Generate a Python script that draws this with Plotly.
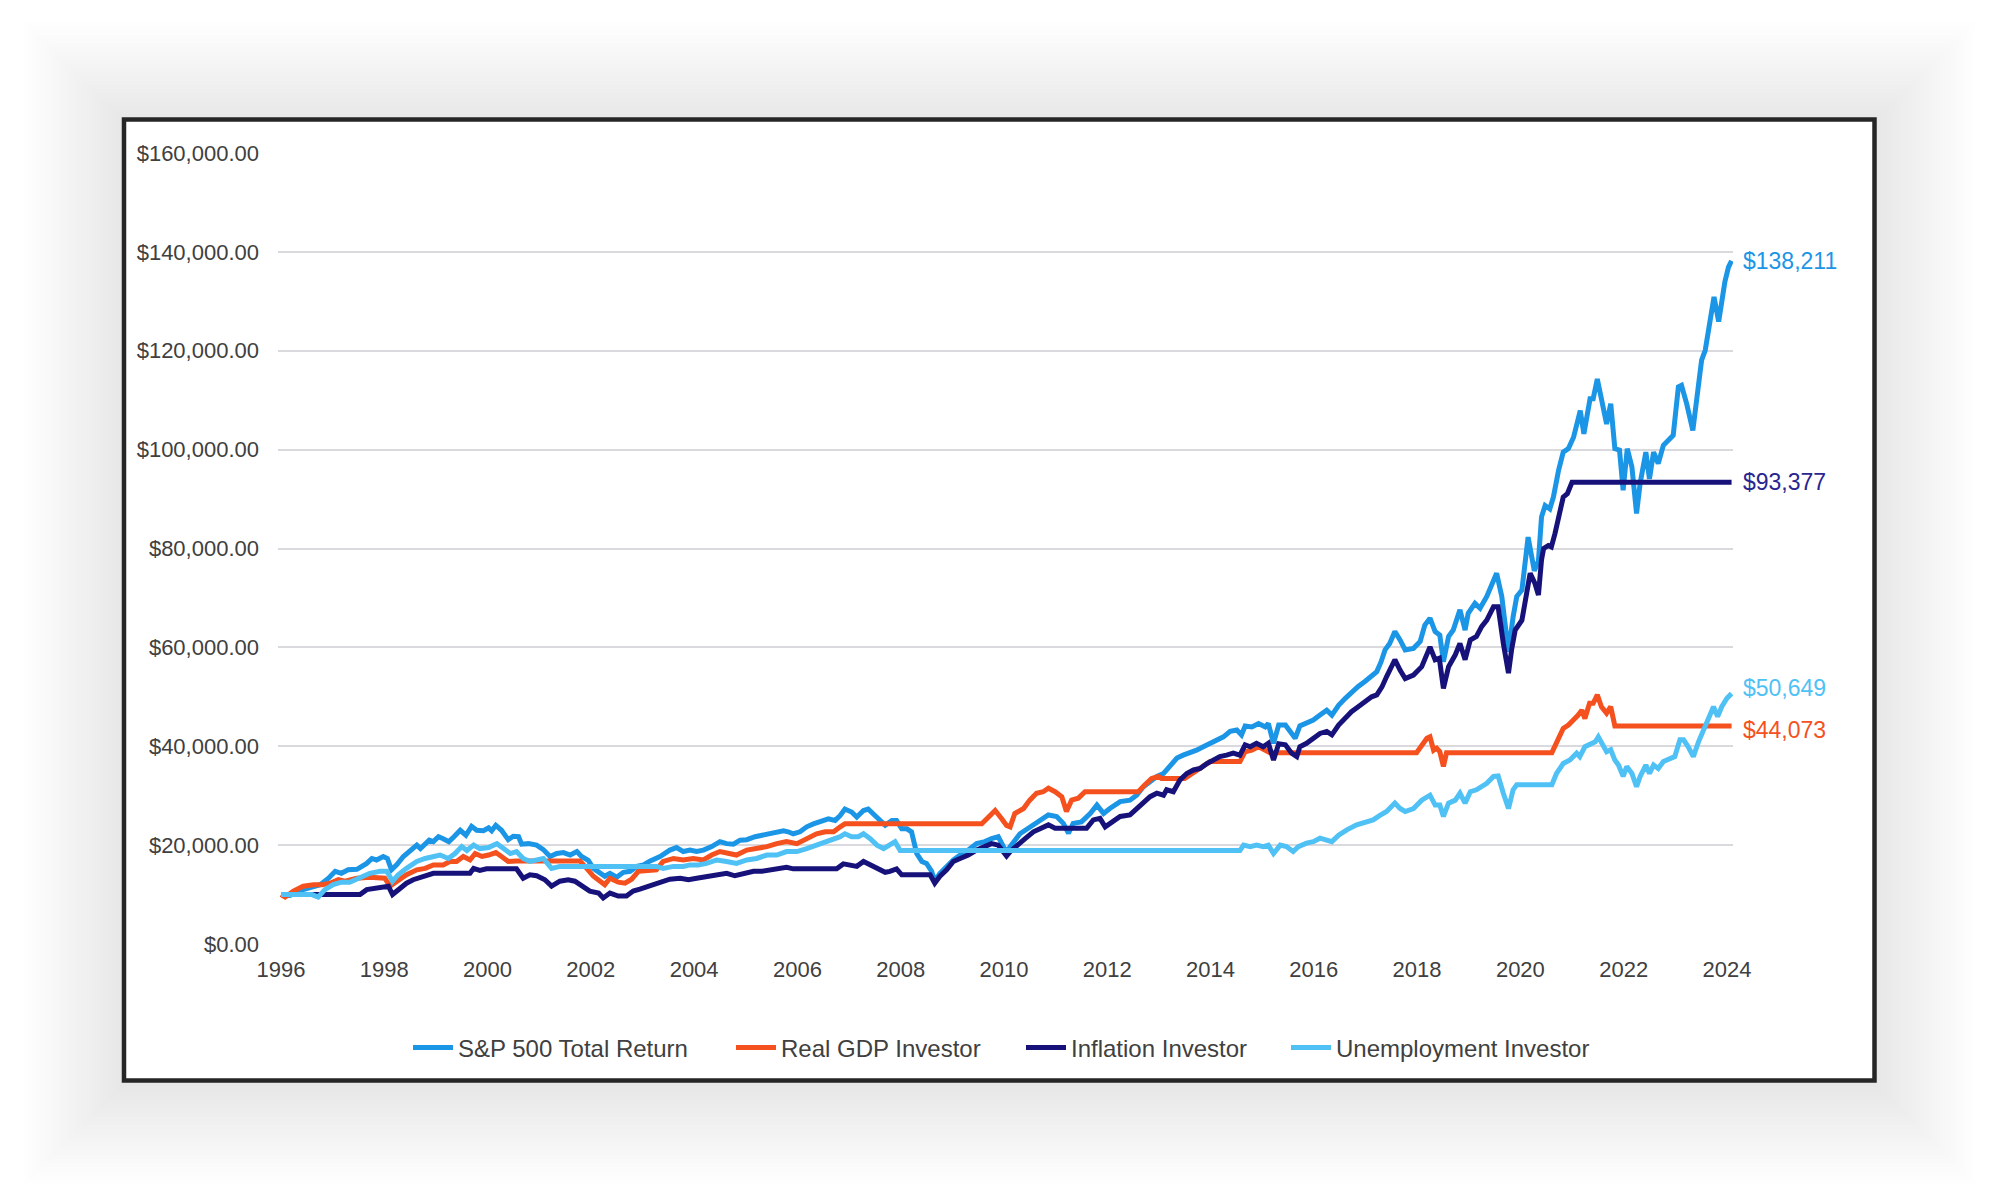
import plotly.graph_objects as go

# ---- data: (year, value in $ thousands) ----
sp500_k = [
    (1996.00,10.0),(1996.17,9.8),(1996.43,11.0),(1996.76,12.0),(1996.92,13.3),(1997.05,14.7),(1997.17,14.3),
    (1997.30,15.0),(1997.47,15.1),(1997.66,16.3),(1997.76,17.3),(1997.85,17.0),(1997.98,17.7),(1998.06,17.3),
    (1998.14,15.0),(1998.24,16.0),(1998.37,17.7),(1998.50,19.0),(1998.63,20.0),(1998.70,19.3),(1998.79,20.3),
    (1998.87,21.0),(1998.95,20.7),(1999.05,21.7),(1999.14,21.3),(1999.25,20.7),(1999.35,21.7),(1999.47,23.0),
    (1999.58,22.0),(1999.69,23.8),(1999.79,23.0),(1999.92,22.9),(2000.02,23.5),(2000.08,22.9),(2000.16,24.0),
    (2000.27,23.0),(2000.40,21.1),(2000.50,21.8),(2000.60,21.7),(2000.66,20.2),(2000.79,20.3),(2000.95,20.0),
    (2001.08,19.1),(2001.21,17.7),(2001.34,18.3),(2001.47,18.5),(2001.60,18.0),(2001.73,18.7),(2001.82,17.7),
    (2001.95,16.9),(2002.05,15.3),(2002.18,14.3),(2002.27,13.7),(2002.37,14.3),(2002.50,13.5),(2002.63,14.5),
    (2002.76,14.7),(2002.89,15.7),(2003.02,16.0),(2003.15,16.8),(2003.34,17.7),(2003.53,19.0),(2003.66,19.5),
    (2003.79,18.7),(2003.92,19.0),(2004.05,18.7),(2004.18,19.0),(2004.34,19.7),(2004.50,20.7),(2004.63,20.3),
    (2004.76,20.2),(2004.89,21.0),(2005.02,21.1),(2005.18,21.7),(2005.31,22.0),(2005.44,22.3),(2005.60,22.7),
    (2005.73,22.9),(2005.82,22.7),(2005.92,22.3),(2006.05,22.7),(2006.18,23.7),(2006.31,24.3),(2006.47,25.0),
    (2006.60,25.3),(2006.73,25.0),(2006.83,26.0),(2006.92,27.3),(2007.05,26.7),(2007.15,25.7),(2007.28,27.0),
    (2007.37,27.3),(2007.47,26.3),(2007.57,25.0),(2007.70,24.0),(2007.83,25.0),(2007.92,25.0),(2008.02,23.3),
    (2008.12,23.3),(2008.21,22.7),(2008.31,18.3),(2008.41,16.7),(2008.50,16.3),(2008.60,14.7),(2008.66,12.7),
    (2008.76,14.3),(2008.89,15.7),(2009.02,17.0),(2009.15,18.0),(2009.31,19.0),(2009.47,20.3),(2009.63,20.7),
    (2009.76,21.3),(2009.89,21.7),(2010.05,18.5),(2010.12,19.7),(2010.31,22.3),(2010.50,23.7),(2010.70,25.1),
    (2010.86,26.1),(2011.02,25.8),(2011.15,24.4),(2011.25,22.4),(2011.34,24.4),(2011.50,24.7),(2011.67,26.4),
    (2011.80,28.1),(2011.93,26.4),(2012.05,27.4),(2012.25,28.8),(2012.44,29.1),(2012.57,30.1),(2012.70,31.8),
    (2012.83,32.8),(2012.96,33.9),(2013.09,34.5),(2013.22,35.9),(2013.35,37.6),(2013.47,38.2),(2013.60,38.6),
    (2013.73,39.2),(2013.86,39.9),(2013.99,40.6),(2014.12,41.3),(2014.25,41.9),(2014.38,43.0),(2014.51,43.3),
    (2014.60,42.3),(2014.67,44.1),(2014.80,43.9),(2014.93,44.6),(2015.06,43.9),(2015.12,44.6),(2015.22,40.6),
    (2015.32,44.3),(2015.45,44.3),(2015.54,43.0),(2015.64,41.6),(2015.73,44.1),(2015.86,44.6),(2015.99,45.3),
    (2016.12,46.3),(2016.25,47.3),(2016.35,46.3),(2016.48,48.3),(2016.61,49.7),(2016.73,51.0),(2016.86,52.1),
    (2016.99,53.1),(2017.12,54.4),(2017.22,55.1),(2017.30,57.0),(2017.38,59.5),(2017.47,60.8),(2017.57,63.2),
    (2017.67,61.5),(2017.77,59.5),(2017.93,59.8),(2018.06,61.2),(2018.15,64.5),(2018.25,65.9),(2018.35,63.2),
    (2018.44,62.5),(2018.51,57.1),(2018.61,62.2),(2018.70,63.5),(2018.83,67.6),(2018.93,63.5),(2018.99,66.9),
    (2019.12,68.9),(2019.22,67.9),(2019.35,70.3),(2019.48,73.6),(2019.54,75.0),(2019.64,70.3),(2019.70,65.5),
    (2019.77,59.1),(2019.86,66.2),(2019.93,70.3),(2020.03,71.6),(2020.15,82.3),(2020.27,75.5),(2020.35,77.5),
    (2020.41,86.4),(2020.48,88.7),(2020.57,88.0),(2020.64,90.4),(2020.74,95.8),(2020.83,99.5),(2020.93,100.2),
    (2021.03,102.5),(2021.16,107.9),(2021.23,103.2),(2021.35,110.3),(2021.41,110.3),(2021.49,114.3),(2021.57,110.6),
    (2021.67,105.2),(2021.75,109.3),(2021.83,100.2),(2021.92,99.9),(2021.99,91.8),(2022.07,100.2),(2022.16,96.5),
    (2022.25,87.1),(2022.32,93.2),(2022.43,99.5),(2022.50,94.1),(2022.58,99.5),(2022.67,97.2),(2022.77,100.9),
    (2022.90,102.5),(2022.96,102.9),(2023.06,112.7),(2023.12,113.0),(2023.22,109.3),(2023.34,103.9),(2023.42,110.6),
    (2023.51,118.1),(2023.58,120.1),(2023.67,125.5),(2023.75,130.9),(2023.84,125.9),(2023.90,130.9),(2023.96,133.9),
    (2024.03,136.9),(2024.09,138.211),
]

gdp_k = [
    (1996.00,10.0),(1996.08,9.5),(1996.24,10.7),(1996.43,11.7),(1996.63,12.0),(1996.80,12.0),(1996.95,12.3),
    (1997.11,13.0),(1997.24,12.7),(1997.47,13.3),(1997.72,13.5),(1998.01,13.3),(1998.11,11.7),(1998.24,12.7),
    (1998.43,14.0),(1998.63,15.0),(1998.79,15.3),(1998.95,16.0),(1999.14,16.0),(1999.27,16.7),(1999.40,16.7),
    (1999.53,17.7),(1999.66,17.0),(1999.76,18.3),(1999.89,17.7),(2000.02,18.0),(2000.16,18.5),(2000.27,17.7),
    (2000.40,16.7),(2000.56,16.8),(2001.79,16.8),(2001.92,15.3),(2002.05,13.7),(2002.18,12.7),(2002.27,12.0),
    (2002.37,13.3),(2002.53,12.5),(2002.66,12.3),(2002.79,13.1),(2002.92,14.7),(2003.27,15.0),(2003.40,16.7),
    (2003.60,17.3),(2003.79,17.0),(2003.98,17.3),(2004.18,17.0),(2004.34,18.0),(2004.50,18.7),(2004.66,18.3),
    (2004.82,18.0),(2005.02,19.0),(2005.21,19.3),(2005.41,19.7),(2005.60,20.3),(2005.79,20.7),(2005.99,20.3),
    (2006.18,21.3),(2006.37,22.3),(2006.54,22.7),(2006.70,22.7),(2006.83,23.7),(2006.92,24.3),(2009.57,24.3),
    (2009.70,25.7),(2009.83,27.0),(2009.96,25.3),(2010.05,24.0),(2010.12,23.7),(2010.21,26.4),(2010.38,27.4),
    (2010.50,29.1),(2010.63,30.5),(2010.76,30.8),(2010.86,31.5),(2010.99,30.8),(2011.12,29.8),(2011.21,26.8),
    (2011.31,29.1),(2011.44,29.5),(2011.57,30.8),(2012.60,30.8),(2012.73,32.2),(2012.86,33.5),(2012.99,33.9),
    (2013.05,33.5),(2013.50,33.5),(2013.73,35.2),(2013.99,36.9),(2014.57,36.9),(2014.67,38.9),(2014.80,39.2),
    (2014.93,39.9),(2015.06,39.2),(2015.15,38.7),(2017.99,38.7),(2018.09,40.3),(2018.19,41.6),(2018.25,41.9),
    (2018.32,39.2),(2018.38,39.6),(2018.44,38.9),(2018.51,35.9),(2018.57,38.7),(2020.61,38.7),(2020.70,40.9),
    (2020.83,43.6),(2020.93,44.3),(2021.03,45.3),(2021.12,46.3),(2021.19,47.3),(2021.25,45.6),(2021.34,48.7),
    (2021.41,48.7),(2021.49,50.4),(2021.57,48.0),(2021.67,46.7),(2021.75,48.0),(2021.83,44.073),(2024.09,44.073),
]

inflation_k = [
    (1996.00,10.0),(1997.53,10.0),(1997.66,11.0),(1997.85,11.3),(1998.01,11.5),(1998.08,11.7),(1998.16,10.0),
    (1998.27,11.0),(1998.43,12.3),(1998.56,13.0),(1998.69,13.5),(1998.82,13.8),(1998.95,14.3),(1999.66,14.3),
    (1999.73,15.3),(1999.85,14.9),(1999.98,15.2),(2000.56,15.2),(2000.69,13.3),(2000.82,14.0),(2000.95,13.8),
    (2001.11,13.0),(2001.24,11.7),(2001.40,12.7),(2001.56,13.0),(2001.69,12.7),(2001.82,11.7),(2001.98,10.7),
    (2002.15,10.3),(2002.24,9.3),(2002.37,10.3),(2002.53,9.7),(2002.69,9.7),(2002.82,10.7),(2002.95,11.1),
    (2003.15,11.7),(2003.34,12.3),(2003.53,13.1),(2003.73,13.3),(2003.89,13.0),(2004.05,13.3),(2004.24,13.7),
    (2004.44,14.0),(2004.63,14.3),(2004.79,13.8),(2004.95,14.3),(2005.15,14.7),(2005.31,14.7),(2005.47,15.0),
    (2005.66,15.3),(2005.79,15.5),(2005.92,15.2),(2006.76,15.2),(2006.89,16.2),(2007.02,16.0),(2007.15,15.7),
    (2007.28,16.7),(2007.41,16.0),(2007.57,15.0),(2007.70,14.5),(2007.79,14.7),(2007.92,15.2),(2008.02,14.0),
    (2008.57,14.0),(2008.66,12.3),(2008.76,13.7),(2008.89,15.0),(2009.02,16.7),(2009.15,17.3),(2009.31,18.0),
    (2009.47,19.0),(2009.63,19.7),(2009.76,20.3),(2009.89,20.0),(2010.05,17.8),(2010.12,18.7),(2010.25,20.0),
    (2010.41,21.3),(2010.57,22.7),(2010.70,23.4),(2010.86,24.1),(2010.99,23.4),(2011.60,23.4),(2011.73,25.1),
    (2011.86,25.4),(2011.96,23.7),(2012.09,24.7),(2012.25,25.8),(2012.44,26.1),(2012.57,27.4),(2012.70,28.8),
    (2012.83,29.8),(2012.96,30.5),(2013.09,30.1),(2013.15,31.2),(2013.28,30.8),(2013.41,33.2),(2013.54,34.5),
    (2013.67,35.2),(2013.80,35.5),(2013.93,36.5),(2014.06,37.2),(2014.18,37.9),(2014.31,38.2),(2014.44,38.6),
    (2014.57,38.2),(2014.67,40.3),(2014.77,39.9),(2014.89,40.6),(2015.02,39.9),(2015.12,40.6),(2015.22,37.2),
    (2015.32,40.5),(2015.45,40.3),(2015.57,38.6),(2015.67,37.9),(2015.73,39.9),(2015.86,40.6),(2015.99,41.6),
    (2016.12,42.6),(2016.25,43.0),(2016.35,42.3),(2016.48,44.3),(2016.61,45.7),(2016.73,47.0),(2016.86,48.0),
    (2016.99,49.0),(2017.12,50.0),(2017.22,50.4),(2017.32,52.0),(2017.41,54.1),(2017.57,57.5),(2017.67,55.4),
    (2017.77,53.7),(2017.93,54.4),(2018.09,56.1),(2018.25,60.1),(2018.35,57.5),(2018.43,57.8),(2018.51,51.7),
    (2018.61,56.1),(2018.74,58.5),(2018.83,60.8),(2018.93,57.5),(2019.03,61.5),(2019.15,62.2),(2019.25,64.2),
    (2019.35,65.5),(2019.48,68.2),(2019.57,68.2),(2019.67,60.8),(2019.77,54.8),(2019.83,59.5),(2019.90,63.5),
    (2020.03,65.5),(2020.12,70.9),(2020.19,75.0),(2020.28,73.0),(2020.35,70.6),(2020.41,77.7),(2020.45,80.0),
    (2020.54,80.6),(2020.60,80.3),(2020.67,83.0),(2020.77,87.7),(2020.83,90.4),(2020.91,91.1),(2021.00,93.377),
    (2024.09,93.377),
]

unemployment_k = [
    (1996.00,10.0),(1996.60,10.0),(1996.72,9.5),(1996.85,11.0),(1997.01,12.0),(1997.17,12.5),(1997.33,12.5),
    (1997.53,13.3),(1997.72,14.3),(1997.92,14.7),(1998.05,14.7),(1998.16,12.7),(1998.27,14.0),(1998.43,15.3),
    (1998.63,16.7),(1998.79,17.3),(1998.95,17.8),(1999.08,18.0),(1999.24,17.3),(1999.37,18.3),(1999.50,19.7),
    (1999.60,18.9),(1999.73,20.0),(1999.85,19.3),(2000.02,19.5),(2000.18,20.3),(2000.31,19.3),(2000.44,18.3),
    (2000.56,18.7),(2000.69,17.3),(2000.82,16.7),(2000.95,17.0),(2001.08,17.3),(2001.24,15.3),(2001.40,15.7),
    (2003.27,15.7),(2003.40,15.3),(2003.60,15.7),(2003.79,15.7),(2003.92,16.0),(2004.08,16.0),(2004.24,16.3),
    (2004.44,17.0),(2004.63,16.7),(2004.82,16.3),(2005.02,17.0),(2005.21,17.3),(2005.41,18.0),(2005.60,18.0),
    (2005.79,18.7),(2005.99,18.7),(2006.18,19.3),(2006.37,20.0),(2006.54,20.7),(2006.70,21.3),(2006.83,21.7),
    (2006.92,22.3),(2007.05,21.7),(2007.18,21.7),(2007.28,22.3),(2007.41,21.3),(2007.54,20.0),(2007.67,19.3),
    (2007.79,20.0),(2007.89,20.7),(2007.99,18.9),(2014.57,18.9),(2014.64,20.0),(2014.77,19.7),(2014.89,20.0),
    (2015.02,19.7),(2015.12,20.0),(2015.22,18.3),(2015.35,20.0),(2015.47,19.7),(2015.60,18.7),(2015.70,19.7),
    (2015.86,20.4),(2015.99,20.7),(2016.12,21.4),(2016.25,21.0),(2016.35,20.7),(2016.48,22.0),(2016.64,23.1),
    (2016.83,24.1),(2017.02,24.7),(2017.15,25.1),(2017.28,26.0),(2017.41,26.8),(2017.57,28.5),(2017.67,27.4),
    (2017.77,26.8),(2017.93,27.4),(2018.09,29.1),(2018.25,30.1),(2018.35,28.1),(2018.44,28.1),(2018.51,25.8),
    (2018.61,28.5),(2018.74,29.1),(2018.83,30.5),(2018.93,28.5),(2019.03,30.8),(2019.15,31.2),(2019.25,31.8),
    (2019.35,32.5),(2019.48,33.9),(2019.57,34.0),(2019.67,30.5),(2019.77,27.4),(2019.86,31.2),(2019.93,32.2),
    (2020.61,32.2),(2020.70,34.5),(2020.83,36.5),(2020.96,37.2),(2021.09,38.6),(2021.15,37.9),(2021.25,39.9),
    (2021.35,40.3),(2021.45,40.9),(2021.51,41.9),(2021.57,40.6),(2021.67,38.9),(2021.75,39.3),(2021.83,37.2),
    (2021.90,36.2),(2021.99,33.9),(2022.06,35.9),(2022.16,34.5),(2022.25,31.8),(2022.32,33.9),(2022.43,36.2),
    (2022.50,34.5),(2022.58,36.2),(2022.67,35.5),(2022.77,36.9),(2022.90,37.6),(2022.99,37.9),(2023.09,41.3),
    (2023.16,41.3),(2023.25,39.9),(2023.35,37.9),(2023.45,40.9),(2023.54,43.3),(2023.64,45.7),(2023.74,48.0),
    (2023.82,46.0),(2023.90,48.0),(2024.00,49.7),(2024.09,50.649),
]

series_names = ["S&P 500 Total Return", "Real GDP Investor", "Inflation Investor", "Unemployment Investor"]
series_data = [sp500_k, gdp_k, inflation_k, unemployment_k]
series_colors = ["#1B95E6", "#F4511E", "#17127A", "#4FC1F5"]
label_colors = ["#1B95E6", "#F4511E", "#2A2590", "#4FC1F5"]
label_yshift = [0, -4, 0, 6]

tick_years = list(range(1996, 2025, 2))
tick_labels = [str(y) for y in tick_years]
y_ticks = list(range(0, 160001, 20000))

W, H = 2000, 1200
OFF = 8                                  # page body margin added by the browser
PL, PR, PT, PB = 278, 1733, 153, 944     # plot area in screenshot pixels
FONT = "Liberation Sans, Arial, Helvetica, sans-serif"
TXT = "#404040"

legend_ids = ["legend", "legend2", "legend3", "legend4"]
legend_line_x = [414, 737, 1027, 1292]   # screenshot x where each legend swatch starts

fig = go.Figure()
for name, data, color, lid in zip(series_names, series_data, series_colors, legend_ids):
    xs = [p[0] for p in data]
    ys = [p[1] * 1000 for p in data]
    fig.add_trace(go.Scatter(x=xs, y=ys, mode="lines", name=name, legend=lid,
                             line=dict(color=color, width=5)))

# end-value labels
annotations = []
for data, color, ysh in zip(series_data, label_colors, label_yshift):
    xv, yv = data[-1][0], data[-1][1] * 1000
    annotations.append(dict(x=xv, y=yv, xref="x", yref="y", text=f"${yv:,.0f}",
                            showarrow=False, xanchor="left", yanchor="middle",
                            xshift=9, yshift=ysh,
                            font=dict(family=FONT, size=23, color=color)))

# screenshot pixel -> paper (paper is relative to the plot area)
def px(x):
    return (x - PL) / (PR - PL)

def py(y):
    return (PB - y) / (PB - PT)

fx0, fy0, fx1, fy1 = 124, 119.5, 1874.5, 1080.5
shapes = []
N = 24
for i in range(N, 0, -1):
    e = i * 4.2
    shapes.append(dict(type="rect", xref="paper", yref="paper", layer="below",
                       x0=px(fx0 - e), x1=px(fx1 + e), y0=py(fy1 + e + 3), y1=py(fy0 - e + 3),
                       line=dict(width=0), fillcolor="rgba(0,0,0,0.0058)"))
shapes.append(dict(type="rect", xref="paper", yref="paper", layer="below",
                   x0=px(fx0), x1=px(fx1), y0=py(fy1), y1=py(fy0),
                   line=dict(width=4.5, color="#262626"), fillcolor="white"))

x_min = 1996 - 3 / 51.64
x_max = 1996 + (PR - 281) / 51.64

legends = {}
for lid, lx in zip(legend_ids, legend_line_x):
    legends[lid] = dict(orientation="h", x=px(lx - 6), xanchor="left", y=py(1048), yanchor="middle",
                        font=dict(family=FONT, size=24, color=TXT), bgcolor="rgba(0,0,0,0)",
                        itemwidth=40, borderwidth=0)

fig.update_layout(
    width=W, height=H,
    margin=dict(l=PL - OFF, r=W - (PR - OFF), t=PT - OFF, b=H - (PB - OFF), pad=0),
    paper_bgcolor="white", plot_bgcolor="rgba(0,0,0,0)",
    font=dict(family=FONT, size=22, color=TXT),
    showlegend=True,
    shapes=shapes,
    annotations=annotations,
    xaxis=dict(range=[x_min, x_max], tickmode="array", tickvals=tick_years, ticktext=tick_labels,
               showgrid=False, zeroline=False, showline=False, ticks="",
               tickfont=dict(family=FONT, size=22, color=TXT), ticklabelstandoff=10),
    yaxis=dict(range=[0, 160000], tickmode="array", tickvals=y_ticks, tickformat="$,.2f",
               showgrid=True, gridcolor="#D9D9DE", gridwidth=1.5, zeroline=False, showline=False,
               ticks="", tickfont=dict(family=FONT, size=22, color=TXT), ticklabelstandoff=18),
    **legends,
)

fig.write_html("out.html")
